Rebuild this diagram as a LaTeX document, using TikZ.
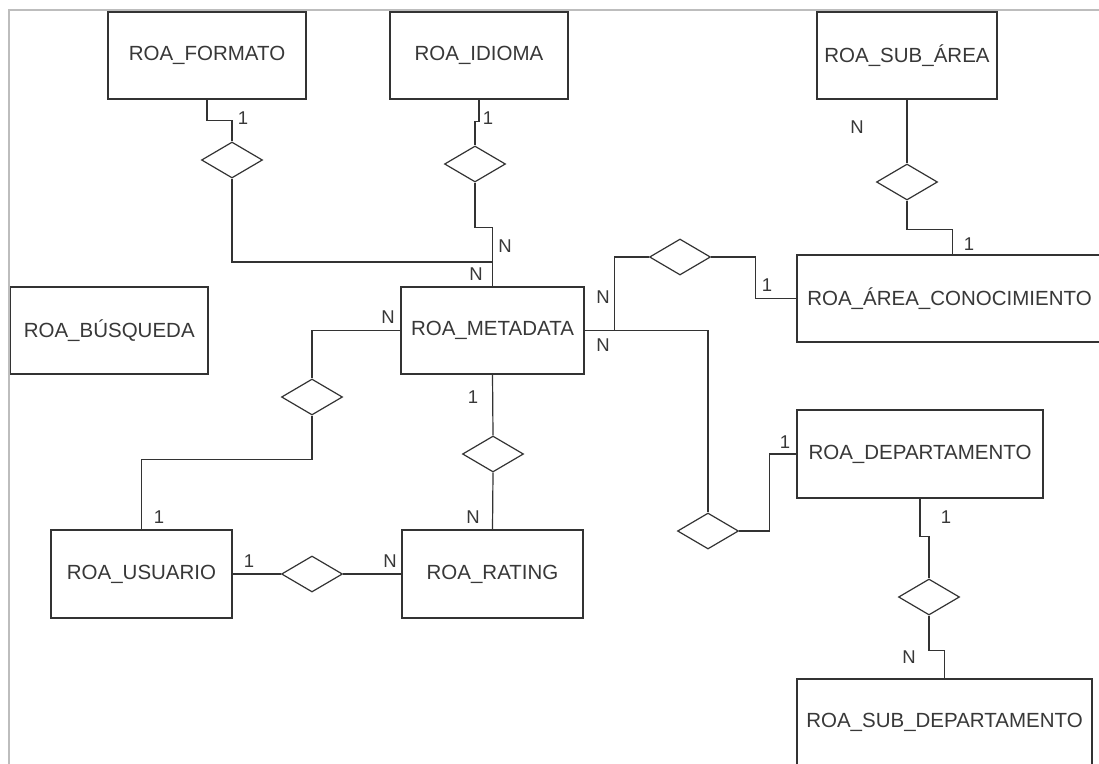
\documentclass[tikz,border=0pt]{standalone}
\usepackage{fontspec}
\setmainfont{Liberation Sans}
\usetikzlibrary{shapes.geometric}

\definecolor{ink}{HTML}{333333}
\definecolor{txt}{HTML}{383838}
\definecolor{framegrey}{HTML}{BDBDBD}

\tikzset{
  entity/.style={draw=ink, line width=1.3pt, rectangle, inner sep=0pt,
    minimum height=87pt, text=txt,
    font=\fontsize{20.5}{24}\selectfont},
  rel/.style={draw=ink, line width=1.2pt, diamond, inner sep=0pt,
    minimum width=61pt, minimum height=36pt},
  link/.style={draw=ink, line width=1.2pt},
  card/.style={inner sep=0pt, text=txt, font=\fontsize{18.5}{22}\selectfont},
}

\begin{document}
\begin{tikzpicture}[x=1pt, y=-1pt]
\useasboundingbox (0,0) rectangle (1099,763);
\clip (0,0) rectangle (1099,763);
\fill[white] (0,0) rectangle (1099,763);

% outer sheet border
\draw[framegrey, line width=2pt] (8.5,800) |- (1120,10);

% entities
\node[entity, minimum width=198pt] (formato) at (207,55.5) {ROA\_FORMATO};
\node[entity, minimum width=178pt] (idioma)  at (479,55.5) {ROA\_IDIOMA};
\node[entity, minimum width=180pt] (subarea) at (907,55.5) {ROA\_SUB\_ÁREA};
\node[entity, minimum width=197.5pt] (busqueda) at (109.25,330.5) {ROA\_BÚSQUEDA};
\node[entity, minimum width=183pt] (meta) at (492.5,330.5) {ROA\_METADATA};
\node[entity, minimum width=305pt] (area) at (949.5,298.5) {ROA\_ÁREA\_CONOCIMIENTO};
\node[entity, minimum width=246pt, minimum height=88pt] (dep) at (920,454) {ROA\_DEPARTAMENTO};
\node[entity, minimum width=181pt, minimum height=88pt] (usuario) at (141.5,574) {ROA\_USUARIO};
\node[entity, minimum width=181pt, minimum height=88pt] (rating) at (492.5,574) {ROA\_RATING};
\node[entity, minimum width=295pt] (subdep) at (944.5,722.5) {ROA\_SUB\_DEPARTAMENTO};

% relationships
\node[rel] (dF)  at (232,160) {};
\node[rel] (dI)  at (475,164) {};
\node[rel] (dS)  at (907,182) {};
\node[rel] (dA)  at (680,257) {};
\node[rel] (dU)  at (312,397) {};
\node[rel] (dR)  at (493,454) {};
\node[rel] (dUR) at (312,574) {};
\node[rel] (dD)  at (708,531) {};
\node[rel] (dSD) at (929,597) {};

% junction above ROA_METADATA
\coordinate (jM) at (492.5,262);

% connectors
\draw[link] (formato.south) -- ++(0,21) -| (dF.north);
\draw[link] (dF.south) |- (jM) -- (meta.north);
\draw[link] (idioma.south) -- ++(0,22) -| (dI.north);
\draw[link] (dI.south) -- ++(0,45) -| (jM);

\draw[link] (subarea.south) -- (dS.north);
\draw[link] (dS.south) -- ++(0,29) -| ([xshift=156pt]area.north west);

\draw[link] (meta.east) -- ++(30,0) |- (dA.west);
\draw[link] (dA.east) -- ++(44,0) |- (area.west);

\draw[link] (meta.east) -| (dD.north);
\draw[link] (dD.east) -- ++(30,0) |- (dep.west);

\draw[link] (dep.south) -- ++(0,38) -| (dSD.north);
\draw[link] (dSD.south) -- ++(0,35) -| (subdep.north);

\draw[link] (meta.west) -| (dU.north);
\draw[link] (dU.south) -- ++(0,44) -| (usuario.north);

\draw[link] (meta.south) -- (dR.north);
\draw[link] (dR.south) -- (rating.north);

\draw[link] (usuario.east) -- (dUR.west);
\draw[link] (dUR.east) -- (rating.west);

% cardinalities
\node[card] (c1)  at (243,118) {1};
\node[card] (c2)  at (476,274) {N};
\node[card] (c3)  at (488,118) {1};
\node[card] (c4)  at (505,246) {N};
\node[card] (c5)  at (857,127) {N};
\node[card] (c6)  at (969,244) {1};
\node[card] (c7)  at (603,297) {N};
\node[card] (c8)  at (603,345) {N};
\node[card] (c9)  at (767,285) {1};
\node[card] (c10) at (785,442) {1};
\node[card] (c11) at (946,517) {1};
\node[card] (c12) at (909,657) {N};
\node[card] (c13) at (388,317) {N};
\node[card] (c14) at (159,517) {1};
\node[card] (c15) at (473,397) {1};
\node[card] (c16) at (473,517) {N};
\node[card] (c17) at (249,561) {1};
\node[card] (c18) at (390,561) {N};
\end{tikzpicture}
\end{document}
